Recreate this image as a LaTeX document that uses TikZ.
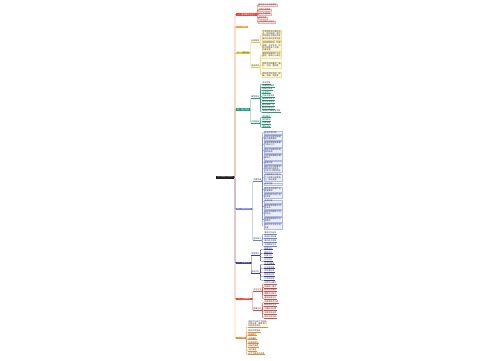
\documentclass[tikz,border=0pt]{standalone}
\usepackage{fontspec}
\newfontfamily\cjk{Noto Sans CJK SC}
\XeTeXlinebreaklocale "zh"
\XeTeXlinebreakskip=0pt plus 0.2pt
\definecolor{cred}{HTML}{E8453C}
\definecolor{corange}{HTML}{F5A030}
\definecolor{cyellow}{HTML}{EFC92A}
\definecolor{cgreen}{HTML}{1AA37A}
\definecolor{cblue}{HTML}{6C80E0}
\definecolor{cindigo}{HTML}{3B3BA6}
\definecolor{corangeb}{HTML}{F08A24}
\tikzset{
  txt/.style={font=\cjk\fontsize{2}{2.3}\selectfont, inner sep=0.4pt, outer sep=0pt},
  rootbox/.style={txt, fill=black!88, text=white, minimum height=3pt, minimum width=18pt},
  brbox/.style={txt, fill=#1, text=white, minimum height=2.8pt, anchor=west},
  link/.style={draw=#1, line width=0.35pt, rounded corners=0.8pt},
  leaf/.style={txt, anchor=west, text=black!80, inner sep=0.3pt},
  pinkbox/.style={txt, anchor=west, fill=#1!10, draw=#1!45, line width=0.2pt, minimum height=2.8pt, text=black!80},
  fillbox/.style={txt, anchor=north west, fill=#1!12, draw=#1!55, line width=0.2pt, align=left, text=black!80, inner sep=0.5pt}
}
\newcommand\uleaf[5]{\node[leaf] (#1) at (#3,#4) {#5};
  \draw[#2, line width=0.25pt] (#1.south west) -- (#1.south east);}
\newcommand\conn[3]{\draw[link=#1] (#2) -- ++(0.8,0) |- (#3);}
\begin{document}
\begin{tikzpicture}[x=1pt,y=-1pt]
\fill[white] (0,0) rectangle (500,360);
\useasboundingbox (0,0) rectangle (500,360);

% root
\node[rootbox, anchor=east] (root) at (234,177) {中华传统文化知识};

% branches
\node[brbox=cred, minimum width=20.5pt] (b1) at (236,14.3) {一、基本概念与定义};
\node[brbox=corange, minimum width=12pt] (b2) at (236,27) {二、起源};
\node[brbox=cyellow, text=black!80, minimum width=14pt] (b3) at (236,53) {三、主要内容};
\node[brbox=cgreen, minimum width=14pt] (b4) at (236,109.5) {四、核心特点};
\node[brbox=cblue, minimum width=16pt] (b5) at (236,209) {五、作用与意义};
\node[brbox=cindigo, minimum width=15pt] (b6) at (236,263) {六、分类方式};
\node[brbox=cred, minimum width=16pt] (b7) at (236,299) {七、注意事项};
\node[brbox=corangeb, minimum width=9.5pt] (b8) at (236,338) {八、总结};

\foreach \b/\c in {b8/corangeb, b7/cred, b6/cindigo, b5/cblue, b4/cgreen, b3/cyellow, b2/corange, b1/cred}{
  \draw[link=\c] (root.east) -- (235,177) |- (\b.west);
}

% branch 1
\foreach \y/\t [count=\i] in {5/基本定义与内涵说明, 10/主要构成要素, 14/相关术语解释, 18/适用范围, 22/与其他概念的区别}{
  \node[pinkbox=cred] (p\i) at (258,\y) {\t};
  \conn{cred}{b1.east}{p\i.west}
}

% branch 3
\uleaf{s3a}{cyellow}{251}{41}{起源背景}
\uleaf{s3b}{cyellow}{251}{66}{具体表现}
\conn{cyellow}{b3.east}{s3a.south west}
\conn{cyellow}{b3.east}{s3b.south west}
\node[fillbox=cyellow, text width=18pt] (ya) at (262,30) {中华传统文化源远流长，博大精深，是中华民族在长期历史发展中形成的宝贵财富};
\node[fillbox=cyellow, text width=18pt] (yb) at (262,41.5) {包括思想观念、伦理道德、文学艺术、风俗习惯等多个方面，内容丰富};
\node[fillbox=cyellow, text width=18pt] (yc) at (262,52.5) {儒家思想强调仁义礼智信，影响十分深远};
\node[fillbox=cyellow, text width=18pt] (yd) at (262,62.5) {传统节日如春节、端午、中秋、重阳等};
\node[fillbox=cyellow, text width=18pt] (ye) at (262,72) {传统艺术如书法、绘画、戏曲、剪纸等};
\conn{cyellow}{s3a.south east}{ya.west}
\conn{cyellow}{s3a.south east}{yb.west}
\conn{cyellow}{s3b.south east}{yc.west}
\conn{cyellow}{s3b.south east}{yd.west}
\conn{cyellow}{s3b.south east}{ye.west}

% branch 4
\uleaf{s4a}{cgreen}{251}{97}{典型特征}
\uleaf{s4b}{cgreen}{251}{122}{内在联系}
\conn{cgreen}{b4.east}{s4a.south west}
\conn{cgreen}{b4.east}{s4b.south west}
\foreach \y/\t [count=\i] in {83/传承性强, 86.1/地域特色鲜明, 89.2/民族性突出, 92.3/历史悠久, 95.4/内容丰富多样, 98.5/具有教育意义, 101.6/形式灵活多变, 104.7/群众基础广泛, 107.8/融合外来文化, 110.9/体现时代精神与风貌}{
  \uleaf{g\i}{cgreen}{262}{\y}{\t}
  \conn{cgreen}{s4a.south east}{g\i.south west}
}
\foreach \y/\t [count=\i] in {116.3/相互联系, 119.7/相互影响, 123/不断发展, 126.3/推陈出新}{
  \uleaf{h\i}{cgreen}{262}{\y}{\t}
  \conn{cgreen}{s4b.south east}{h\i.south west}
}

% branch 5
\uleaf{s5a}{cblue}{253}{180}{主要作用}
\uleaf{s5b}{cblue}{253}{239}{现实意义}
\conn{cblue}{b5.east}{s5a.south west}
\conn{cblue}{b5.east}{s5b.south west}
\foreach \y/\t [count=\i] in {131/文化传承作用, 135/传统文化是民族精神的重要载体, 141.5/能够增强民族凝聚力和向心力, 148/有利于培养良好的道德品质, 154.5/为社会发展提供精神动力, 161/教育功能, 165/通过节日习俗等形式传递价值观念，引导人们明辨是非, 173.8/在潜移默化中提升个人修养与审美能力，促进发展, 182.6/经济功能, 186.8/带动文化旅游产业发展繁荣, 193.3/促进相关文创产品的开发, 199.8/社会功能, 204/维系家庭和睦与邻里关系, 210.5/促进不同群体之间的交流, 217/构建和谐稳定的社会秩序, 223.5/推动中外文化交流互鉴}{
  \node[fillbox=cblue, text width=17pt] (u\i) at (264,\y) {\t};
  \conn{cblue}{s5a.south east}{u\i.west}
}
\foreach \y/\t [count=\i] in {233/增强文化自信, 237/促进社会和谐, 241/推动经济发展, 245/丰富精神生活}{
  \uleaf{v\i}{cblue}{264}{\y}{\t}
  \conn{cblue}{s5b.south east}{v\i.south west}
}

% branch 6
\uleaf{s6a}{cindigo}{251}{254}{按性质分}
\uleaf{s6b}{cindigo}{251}{272}{按形式分}
\conn{cindigo}{b6.east}{s6a.south west}
\conn{cindigo}{b6.east}{s6b.south west}
\foreach \y/\t [count=\i] in {248.3/物质文化, 252.3/精神文化, 256/制度文化, 260/行为文化}{
  \uleaf{m\i}{cindigo}{264}{\y}{\t}
  \conn{cindigo}{s6a.south east}{m\i.south west}
}
\foreach \y/\t [count=\i] in {263.3/文字记载类, 267.3/口头传承类, 271/实物遗存类, 275/民俗活动类, 279/艺术表现类}{
  \uleaf{n\i}{cindigo}{264}{\y}{\t}
  \conn{cindigo}{s6b.south east}{n\i.south west}
}

% branch 7
\uleaf{s7a}{cred}{253}{290}{学习方法}
\uleaf{s7b}{cred}{253}{309}{思维方式}
\conn{cred}{b7.east}{s7a.south west}
\conn{cred}{b7.east}{s7b.south west}
\foreach \y/\t [count=\i] in {282.7/注意区分概念, 286.4/把握核心要点, 290/结合实际案例, 293.8/理解内在联系, 297.5/避免机械记忆}{
  \uleaf{r\i}{cred}{264}{\y}{\t}
  \conn{cred}{s7a.south east}{r\i.south west}
}
\foreach \y/\t [count=\i] in {301.5/多角度思考问题, 305.2/联系现实生活, 309/注重知识积累, 312.7/加强实践运用, 316.5/及时总结归纳}{
  \uleaf{q\i}{cred}{264}{\y}{\t}
  \conn{cred}{s7b.south east}{q\i.south west}
}

% branch 8
\node[leaf, anchor=north west, text width=19pt, align=left] (o0) at (248,320) {传统文化是中华民族的根与魂，需要我们共同传承发扬};
\draw[corangeb, line width=0.25pt] (o0.south west) -- (o0.south east);
\draw[link=corangeb] (b8.east) -- ++(0.8,0) |- (o0.south west);
\foreach \y/\t [count=\i] in {330.7/继承优秀传统, 334.3/取其精华, 338.3/去其糟粕, 342.3/创造性转化, 346/创新性发展, 349.6/与时俱进, 353.3/古为今用洋为中用}{
  \uleaf{o\i}{corangeb}{248}{\y}{\t}
  \conn{corangeb}{b8.east}{o\i.south west}
}
\end{tikzpicture}
\end{document}
